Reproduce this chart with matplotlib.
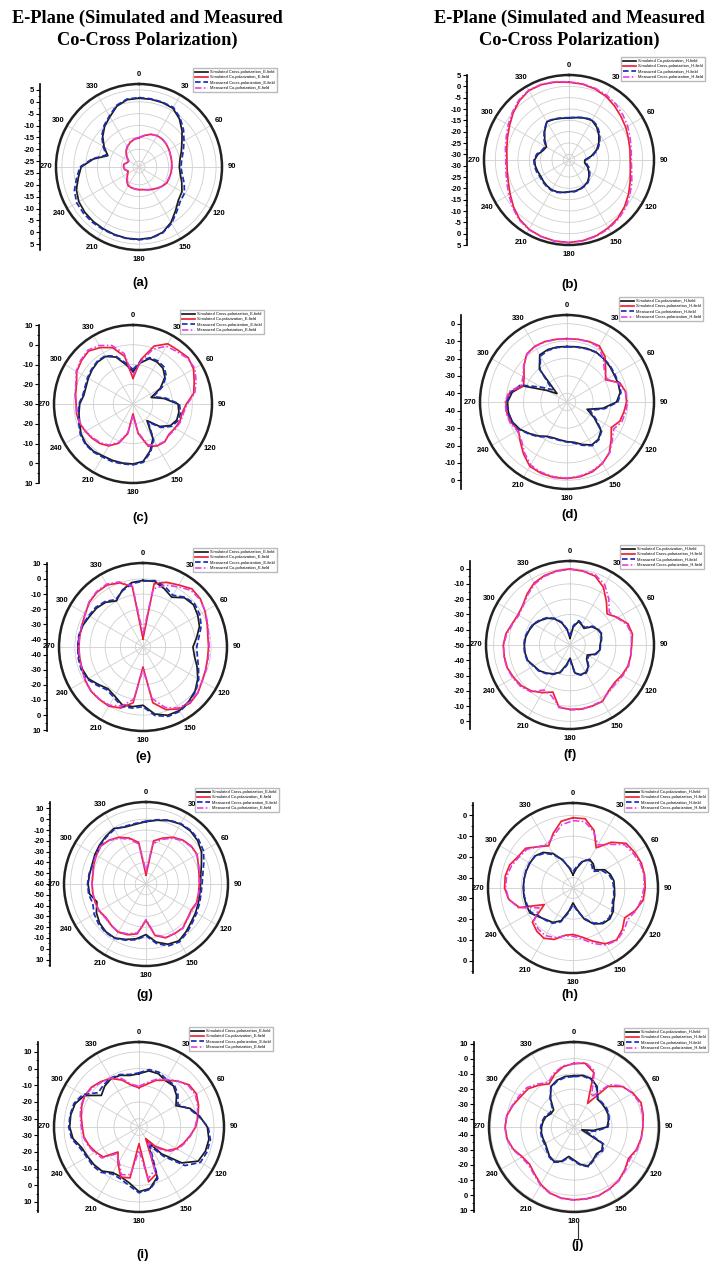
import numpy as np
import matplotlib
matplotlib.use("Agg")
import matplotlib.pyplot as plt
from matplotlib.lines import Line2D

W, H = 723, 1266
plt.rcParams['font.family'] = ['Liberation Sans', 'DejaVu Sans']

THETA_DEG = np.arange(0, 360, 10)
THETA_LABELS = ['0', '30', '60', '90', '120', '150', '180', '210', '240', '270', '300', '330']

E_LABELS = ['Simulated Cross-polarization_E-field', 'Simulated Co-polarization_E-field',
            'Measured Cross-polarization_E-field', 'Measured Co-polarization_E-field']
H_LABELS = ['Simulated Co-polarization_H-field', 'Simulated Cross-polarization_H-field',
            'Measured Co-polarization_H-field', 'Measured Cross-polarization_H-field']

# ---------------- (a) E-plane ----------------
a_sim_cross = [1.5, 1.5, 1.4, 1.1, -1.0, -3.8, -6.6, -8.5, -10.0, -10.5, -9.8, -8.3, -6.6, -5.8, -3.5, -0.5, 1.8, 2.8,
               3.0, 3.0, 2.8, 2.6, 2.5, 2.3, 1.8, 0.6, -1.5, -3.1, -8.0, -13.5, -10.5, -7.5, -5.0, -3.0, -0.2, 1.3]
a_sim_co = [-15.2, -14.0, -12.8, -12.2, -12.2, -12.5, -12.9, -13.3, -13.5, -13.7, -13.8, -13.9, -14.0, -14.8, -15.8, -16.6,
            -17.3, -17.8, -17.9, -18.0, -18.2, -18.4, -19.5, -21.0, -22.0, -22.6, -21.3, -21.0, -21.0, -22.2, -22.5, -20.8,
            -19.0, -17.7, -16.5, -15.7]
a_meas_cross = [1.8, 1.7, 1.6, 1.5, -0.5, -3.0, -5.6, -7.6, -9.2, -9.8, -9.0, -7.2, -5.4, -4.8, -2.8, 0.0, 2.0, 3.0,
                3.2, 3.1, 3.0, 2.9, 3.0, 3.0, 2.8, 1.5, -0.8, -2.6, -7.5, -12.8, -10.0, -7.0, -4.6, -2.6, 0.2, 1.6]
a_meas_co = [-15.0, -13.9, -12.9, -12.3, -12.1, -12.4, -12.8, -13.4, -13.6, -13.5, -13.6, -14.1, -14.2, -14.9, -15.6, -16.4,
             -17.2, -17.9, -18.1, -18.1, -18.3, -18.6, -19.8, -21.2, -21.8, -22.4, -21.5, -21.2, -20.8, -22.0, -22.3, -20.6,
             -18.8, -17.5, -16.3, -15.5]

# ---------------- (b) H-plane ----------------
b_sim_co = [-14.0, -13.5, -12.8, -12.3, -13.5, -15.3, -17.3, -19.5, -22.5, -25.5, -25.5, -23.8, -22.4, -21.0, -19.8, -19.2,
            -18.8, -18.5, -18.5, -18.0, -17.5, -17.3, -17.5, -17.8, -18.1, -17.8, -17.4, -17.3, -18.5, -20.3, -21.0, -18.5,
            -15.8, -13.0, -13.4, -13.8]
b_sim_cross = [1.8, 1.5, 0.9, 0.0, -1.3, -2.6, -3.6, -4.6, -5.2, -5.5, -5.0, -3.8, -2.2, -0.5, 1.0, 2.1, 3.0, 3.6,
               3.9, 3.8, 3.4, 2.8, 1.5, -0.5, -2.5, -4.0, -4.8, -5.1, -4.6, -3.6, -2.2, -0.3, 1.6, 2.9, 2.9, 2.4]
b_meas_co = [-13.8, -13.3, -12.6, -12.0, -13.0, -14.8, -16.8, -19.0, -22.0, -25.0, -24.8, -23.2, -22.0, -20.6, -19.5, -19.0,
             -18.6, -18.3, -18.4, -17.8, -17.3, -17.0, -17.2, -17.4, -17.7, -17.3, -17.0, -17.0, -18.0, -19.8, -20.5, -18.0,
             -15.5, -12.8, -13.2, -13.6]
b_meas_cross = [2.0, 1.7, 1.2, 0.6, -0.3, -1.5, -2.6, -3.8, -4.6, -5.0, -4.4, -3.0, -1.5, 0.2, 1.5, 2.5, 3.3, 3.8,
                4.0, 3.9, 3.5, 3.0, 1.9, 0.0, -1.8, -3.3, -4.2, -4.6, -4.0, -3.0, -1.5, 0.2, 2.0, 3.1, 3.1, 2.6]

# ---------------- (c) E-plane ----------------
c_sim_cross = [-13.6, -8.9, -5.5, -5.5, -6.4, -8.9, -14.0, -20.2, -14.0, -7.2, -6.4, -6.4, -8.1, -12.3, -19.0, -9.8, -4.7, -0.5,
               0.4, 0.4, 0.4, 0.4, 1.2, 1.2, 0.4, -1.3, -2.2, -3.0, -4.7, -4.7, -3.9, -3.0, -2.2, -2.2, -4.7, -9.8]
c_sim_co = [-17.0, -7.2, 1.2, 5.2, 5.5, 6.5, 5.4, 3.0, 1.2, -3.0, -4.7, -4.7, -5.5, -6.2, -5.0, -5.5, -7.2, -14.8,
            -25.0, -14.8, -8.9, -5.5, -3.9, -3.0, -2.2, -1.3, -1.0, -1.2, -0.5, 0.4, 2.9, 4.1, 5.0, 3.0, 0.4, -5.5]
c_meas_cross = [-12.5, -8.0, -5.0, -4.8, -5.5, -8.0, -13.0, -19.0, -13.0, -6.5, -5.5, -5.6, -7.4, -11.5, -18.0, -9.0, -4.0, 0.0,
                0.8, 0.8, 1.0, 1.0, 1.6, 1.6, 0.8, -0.8, -1.8, -2.6, -4.2, -4.2, -3.4, -2.6, -1.8, -1.8, -4.2, -9.0]
c_meas_co = [-15.5, -8.5, -0.5, 3.8, 4.6, 6.0, 6.2, 4.0, 1.8, -2.5, -4.0, -4.2, -5.0, -5.8, -5.2, -6.0, -8.0, -15.5,
             -24.0, -15.5, -9.5, -6.0, -4.4, -3.4, -2.4, -1.6, -1.2, -1.0, -0.2, 0.8, 3.2, 4.6, 5.6, 4.2, 1.6, -4.0]

# ---------------- (d) H-plane ----------------
d_sim_co = [-13.1, -12.8, -12.2, -11.8, -12.4, -13.0, -13.7, -13.7, -14.0, -16.5, -24.1, -32.7, -27.0, -19.5, -17.0, -16.5,
            -19.0, -21.5, -22.2, -22.8, -23.0, -22.2, -19.5, -16.8, -13.7, -11.6, -10.8, -10.8, -13.0, -18.0, -31.7, -37.5,
            -20.3, -13.7, -12.9, -12.9]
d_sim_cross = [-8.6, -8.4, -8.0, -7.8, -11.0, -16.0, -19.4, -12.7, -10.8, -10.8, -11.8, -12.7, -15.6, -11.8, -7.1, -4.2,
               -2.3, -1.4, -1.0, -1.0, -1.4, -2.3, -6.1, -9.9, -12.7, -10.8, -9.9, -9.9, -11.8, -18.4, -16.5, -12.7,
               -9.0, -8.0, -8.0, -8.4]
d_meas_co = [-13.3, -13.0, -12.5, -12.0, -12.2, -12.6, -13.2, -13.3, -13.5, -15.8, -23.0, -31.0, -26.0, -19.0, -16.6, -16.0,
             -18.5, -21.0, -22.0, -22.5, -22.6, -21.8, -19.0, -16.4, -13.4, -11.4, -10.6, -10.4, -12.4, -16.5, -28.0, -34.0,
             -21.0, -14.5, -13.4, -13.2]
d_meas_cross = [-8.8, -8.5, -8.2, -8.5, -12.5, -17.0, -18.5, -13.5, -11.0, -10.2, -10.8, -11.5, -14.0, -11.0, -6.8, -4.5,
                -2.8, -1.8, -1.3, -1.4, -2.0, -3.2, -7.0, -10.8, -12.0, -10.2, -9.4, -9.5, -11.0, -17.0, -15.8, -12.4,
                -9.2, -8.3, -8.2, -8.6]

# ---------------- (e) E-plane ----------------
e_sim_cross = [-1.0, -1.0, -4.0, -7.0, -2.5, -1.5, -3.2, -5.3, -9.0, -12.0, -10.5, -7.0, -3.2, 0.0, 2.0, 3.4, 3.0, 0.0,
               -6.5, -5.0, -4.5, -7.6, -9.0, -6.5, -3.2, -2.3, -2.1, -2.1, -2.1, -2.8, -4.3, -5.0, -6.5, -9.8, -5.0, -1.8]
e_sim_co = [-39.5, -2.6, 0.5, 2.3, 5.2, 4.5, 2.3, 0.1, -1.5, -1.7, -1.7, -1.0, 0.1, 2.3, 3.4, 2.3, -1.0, -7.6,
            -31.8, -7.6, -2.1, 0.1, 0.1, 0.1, -1.0, -2.1, -2.6, -2.6, -2.6, -2.1, -1.0, 1.2, 2.3, 2.3, 0.1, -4.5]
e_meas_cross = [-1.5, -0.5, -2.5, -5.5, -2.0, -0.5, -1.8, -4.0, -7.5, -9.5, -8.5, -6.0, -2.5, 0.5, 2.5, 4.0, 3.8, 1.0,
                -5.5, -4.0, -3.5, -6.5, -8.0, -5.5, -2.5, -1.5, -1.6, -1.8, -1.9, -2.4, -3.6, -4.2, -5.8, -8.8, -5.5, -2.5]
e_meas_co = [-36.0, -6.0, -1.5, 1.0, 4.0, 4.0, 2.5, 0.5, -1.0, -1.2, -1.2, -0.6, 0.2, 2.0, 2.8, 1.5, -2.5, -10.5,
             -30.0, -10.0, -3.5, -0.6, -0.2, -0.2, -1.0, -2.0, -2.4, -2.4, -2.4, -2.0, -0.8, 1.5, 2.8, 3.0, 0.8, -4.0]

# ---------------- (f) H-plane ----------------
f_sim_co = [-45.6, -38.0, -33.6, -34.7, -35.8, -31.4, -29.3, -28.2, -29.3, -30.3, -30.3, -32.5, -36.9, -35.8, -31.4, -29.3,
            -29.3, -31.4, -41.3, -36.9, -31.0, -28.2, -26.0, -23.8, -22.7, -20.5, -20.1, -20.1, -20.5, -21.6, -22.7, -24.9,
            -27.1, -30.3, -34.7, -40.2]
f_sim_cross = [-0.2, -0.9, -2.0, -6.3, -12.9, -18.3, -14.0, -9.6, -8.5, -9.6, -9.6, -9.6, -10.7, -11.8, -10.7, -7.4,
               -7.4, -7.4, -7.9, -8.5, -17.2, -14.0, -10.7, -8.5, -7.4, -6.3, -6.3, -6.3, -7.4, -9.6, -10.7, -9.6,
               -6.3, -3.1, -1.5, -0.7]
f_meas_co = [-44.0, -37.0, -33.0, -34.2, -35.0, -30.8, -28.8, -28.0, -29.0, -30.0, -30.0, -32.0, -36.0, -35.0, -30.8, -28.8,
             -29.0, -31.0, -40.0, -36.0, -30.5, -27.8, -25.6, -23.4, -22.4, -20.2, -19.8, -19.8, -20.0, -21.2, -22.2, -24.4,
             -26.6, -29.8, -34.0, -39.5]
f_meas_cross = [-0.5, -0.8, -1.2, -4.5, -10.5, -16.5, -14.5, -10.5, -9.0, -9.8, -9.5, -9.2, -10.0, -11.0, -10.2, -7.8,
                -7.8, -7.0, -7.5, -9.0, -14.5, -16.0, -10.0, -7.8, -6.8, -6.0, -6.0, -6.5, -8.0, -10.0, -11.2, -10.0,
                -7.0, -3.8, -2.0, -1.0]

# ---------------- (g) E-plane ----------------
g_sim_cross = [-2.2, 0.0, 2.5, 4.1, 4.1, 2.5, -0.6, -5.3, -8.4, -9.4, -9.4, -8.4, -6.9, -5.3, -2.2, 0.9, -0.6, -5.3,
               -13.1, -8.4, -5.3, -2.2, -2.2, -3.8, -6.9, -11.6, -6.9, -6.3, -6.9, -6.9, -5.3, -3.8, -2.2, -0.6, -3.8, -3.8]
g_sim_co = [-51.6, -19.4, -14.7, -10.0, -6.9, -5.3, -5.3, -8.4, -10.0, -10.6, -10.6, -10.0, -11.6, -10.0, -6.9, -6.9,
            -6.9, -11.6, -26.3, -13.1, -10.0, -8.4, -10.0, -11.6, -10.0, -10.0, -10.0, -10.0, -10.0, -8.4, -6.9, -5.3,
            -6.9, -10.0, -14.7, -20.9]
g_meas_cross = [-1.8, 0.5, 3.0, 4.6, 4.8, 3.8, 1.5, -3.0, -6.5, -8.0, -8.2, -7.2, -5.8, -4.0, -1.0, 2.0, 1.0, -4.0,
                -12.0, -7.5, -4.6, -1.8, -1.5, -2.5, -4.5, -7.5, -6.0, -5.8, -6.4, -7.4, -6.0, -4.5, -3.0, -1.5, -3.0, -3.0]
g_meas_co = [-48.0, -22.0, -16.0, -11.0, -7.5, -5.8, -5.6, -8.0, -9.6, -10.2, -10.4, -9.6, -11.0, -9.6, -6.6, -7.2,
             -7.4, -12.5, -27.0, -14.0, -10.8, -8.8, -9.6, -11.0, -9.6, -9.8, -9.8, -9.8, -9.6, -8.0, -6.6, -5.2,
             -7.2, -11.0, -16.0, -22.5]

# ---------------- (h) H-plane ----------------
h_sim_co = [-28.6, -25.4, -21.4, -19.0, -19.8, -21.4, -17.4, -15.8, -15.0, -15.0, -14.6, -14.2, -12.6, -11.8, -12.6, -15.0,
            -19.0, -24.6, -27.8, -23.8, -18.2, -15.8, -15.0, -13.4, -11.0, -11.0, -11.0, -11.0, -11.0, -11.0, -11.0, -11.0,
            -12.6, -15.8, -20.6, -25.4]
h_sim_cross = [-1.1, -1.1, -5.4, -12.6, -6.2, -1.5, -0.7, 0.1, 0.1, -0.2, -0.7, -3.1, -6.2, -3.9, -2.3, -3.9, -7.8, -11.0,
               -12.6, -11.8, -8.6, -7.0, -7.8, -9.4, -19.0, -7.5, -3.5, -2.0, -1.8, -2.5, -4.5, -5.2, -9.0, -11.5, -7.0, -2.3]
h_meas_co = [-27.0, -24.5, -21.0, -19.5, -20.8, -22.5, -18.5, -16.5, -15.5, -15.4, -15.0, -14.8, -13.2, -12.4, -13.0, -15.5,
             -19.5, -24.0, -27.0, -23.0, -17.6, -15.4, -14.6, -13.8, -11.6, -11.4, -11.2, -11.2, -11.0, -10.8, -10.8, -11.2,
             -13.2, -16.4, -21.0, -25.0]
h_meas_cross = [-2.5, -2.5, -6.0, -11.0, -7.5, -2.5, -1.5, -0.5, -0.2, -0.8, -1.6, -2.8, -4.5, -3.0, -2.0, -3.2, -6.5, -10.0,
                -11.8, -11.5, -9.5, -8.5, -9.0, -10.5, -16.0, -7.0, -3.6, -2.5, -2.5, -3.5, -5.0, -6.0, -9.0, -10.5, -8.0, -4.0]

# ---------------- (i) E-plane ----------------
i_sim_cross = [-3.0, -0.8, -1.0, -3.0, -2.8, -5.6, -9.4, -2.4, 2.0, 6.0, 7.6, 7.4, 6.0, -1.5, -14.0, -25.0, -3.0, 2.5,
               3.8, -1.0, -3.2, -3.4, -0.5, 0.2, 0.6, 1.5, 5.2, 6.6, 6.6, 5.8, 2.8, -5.5, -3.0, -1.5, -2.0, -3.6]
i_sim_co = [-11.4, -9.0, -5.2, -2.6, 1.0, 4.3, 4.8, 3.0, 1.0, -1.0, -4.0, -6.5, -9.0, -13.0, -20.0, -27.0, -5.0, -1.6,
            -25.0, -4.0, -3.0, -9.8, -15.4, -7.0, -5.0, -3.0, -1.4, -1.0, 0.2, 1.6, 2.6, 2.2, 0.6, -1.4, -5.0, -9.6]
i_meas_cross = [-2.5, 0.0, 0.0, -2.0, -2.0, -4.5, -8.0, -3.0, 1.5, 6.5, 8.5, 8.5, 7.5, 1.0, -12.0, -22.0, -2.0, 3.0,
                4.5, 0.5, -2.0, -2.5, 0.5, 1.2, 1.2, 2.5, 6.0, 7.2, 7.0, 6.5, 4.0, -3.0, -2.0, -1.0, -1.5, -3.0]
i_meas_co = [-10.5, -8.0, -4.5, -2.0, 1.0, 3.6, 4.0, 2.4, 0.6, -1.4, -3.6, -6.0, -8.2, -12.0, -18.5, -24.0, -7.5, -3.5,
             -21.0, -6.0, -4.5, -11.0, -14.0, -6.0, -4.2, -2.4, -1.0, -0.4, 0.8, 2.2, 2.6, 1.6, 0.0, -1.0, -4.0, -9.0]

# ---------------- (j) H-plane ----------------
j_sim_co = [-11.2, -10.5, -11.2, -14.4, -21.0, -21.0, -21.0, -21.0, -22.0, -23.2, -32.0, -39.5, -23.2, -21.0, -22.0, -19.9,
            -17.7, -19.9, -23.2, -25.3, -21.0, -18.8, -19.9, -22.0, -23.2, -23.2, -23.2, -23.6, -24.3, -25.3, -27.5, -27.5,
            -21.0, -14.4, -12.2, -11.2]
j_sim_cross = [-3.1, -2.4, -6.8, -27.0, -10.0, -3.5, -0.2, 2.0, 1.3, 0.4, -0.2, -1.3, -3.5, -1.3, 0.9, 2.0, 3.0, 3.0,
               3.0, 2.6, 1.3, -1.3, -4.6, -6.8, -5.7, -2.4, -0.2, 0.4, -0.2, -2.4, -4.6, -5.7, -9.0, -12.2, -7.9, -4.6]
j_meas_co = [-11.8, -11.0, -11.8, -15.2, -20.5, -20.5, -20.2, -20.6, -21.5, -22.6, -30.0, -36.0, -22.5, -20.4, -21.4, -19.4,
             -17.2, -19.4, -22.5, -24.5, -20.4, -18.2, -19.4, -21.4, -22.6, -22.4, -22.8, -23.0, -23.6, -24.6, -26.5, -26.5,
             -20.4, -14.8, -12.8, -11.8]
j_meas_cross = [-3.5, -1.8, -5.5, -22.0, -8.5, -3.0, -0.8, 1.2, 1.0, 0.6, 0.0, -0.8, -2.6, -0.8, 1.2, 2.2, 3.2, 3.2,
                3.2, 2.8, 1.6, -0.8, -4.0, -6.0, -5.0, -2.0, 0.0, 0.6, 0.0, -2.0, -3.5, -4.5, -8.0, -11.0, -7.0, -4.0]

# radial scale (centre value, rim value) and left-axis tick labels of each panel
a_scale = (-27.5, 7.5); a_ticks = [5, 0, -5, -10, -15, -20, -25]
b_scale = (-32.5, 5.0); b_ticks = [5, 0, -5, -10, -15, -20, -25, -30]
c_scale = (-30.0, 10.0); c_ticks = [10, 0, -10, -20, -30]
d_scale = (-45.0, 5.0); d_ticks = [0, -10, -20, -30, -40]
e_scale = (-45.0, 10.5); e_ticks = [10, 0, -10, -20, -30, -40]
f_scale = (-50.0, 5.0); f_ticks = [0, -10, -20, -30, -40, -50]
g_scale = (-60.0, 16.0); g_ticks = [10, 0, -10, -20, -30, -40, -50, -60]
h_scale = (-35.0, 6.0); h_ticks = [0, -10, -20, -30]
i_scale = (-35.0, 16.0); i_ticks = [10, 0, -10, -20, -30]
j_scale = (-45.0, 11.0); j_ticks = [10, 0, -10, -20, -30, -40]

# layout (pixels): centre x, centre y, radius, left-axis x, legend top-left, panel label position
PANELS = [
    dict(tag='(a)', field='E', curves=(a_sim_cross, a_sim_co, a_meas_cross, a_meas_co), scale=a_scale, ticks=a_ticks,
         cx=139, cy=167, R=83, axx=40, leg=(193, 68), lab=(140, 283)),
    dict(tag='(b)', field='H', curves=(b_sim_co, b_sim_cross, b_meas_co, b_meas_cross), scale=b_scale, ticks=b_ticks,
         cx=569, cy=160, R=85, axx=467, leg=(621, 57), lab=(570, 285)),
    dict(tag='(c)', field='E', curves=(c_sim_cross, c_sim_co, c_meas_cross, c_meas_co), scale=c_scale, ticks=c_ticks,
         cx=133, cy=404, R=79, axx=39, leg=(180, 310), lab=(140, 518)),
    dict(tag='(d)', field='H', curves=(d_sim_co, d_sim_cross, d_meas_co, d_meas_cross), scale=d_scale, ticks=d_ticks,
         cx=567, cy=402, R=87, axx=461, leg=(619, 297), lab=(570, 515)),
    dict(tag='(e)', field='E', curves=(e_sim_cross, e_sim_co, e_meas_cross, e_meas_co), scale=e_scale, ticks=e_ticks,
         cx=143, cy=647, R=84, axx=47, leg=(193, 548), lab=(143, 757)),
    dict(tag='(f)', field='H', curves=(f_sim_co, f_sim_cross, f_meas_co, f_meas_cross), scale=f_scale, ticks=f_ticks,
         cx=570, cy=645, R=84, axx=470, leg=(620, 545), lab=(570, 755)),
    dict(tag='(g)', field='E', curves=(g_sim_cross, g_sim_co, g_meas_cross, g_meas_co), scale=g_scale, ticks=g_ticks,
         cx=146, cy=884, R=82, axx=50, leg=(195, 788), lab=(145, 995)),
    dict(tag='(h)', field='H', curves=(h_sim_co, h_sim_cross, h_meas_co, h_meas_cross), scale=h_scale, ticks=h_ticks,
         cx=573, cy=888, R=85, axx=473, leg=(624, 788), lab=(570, 995)),
    dict(tag='(i)', field='E', curves=(i_sim_cross, i_sim_co, i_meas_cross, i_meas_co), scale=i_scale, ticks=i_ticks,
         cx=139, cy=1127, R=85, axx=38, leg=(189, 1027), lab=(143, 1255)),
    dict(tag='(j)', field='H', curves=(j_sim_co, j_sim_cross, j_meas_co, j_meas_cross), scale=j_scale, ticks=j_ticks,
         cx=574, cy=1127, R=85, axx=474, leg=(624, 1028), lab=(578, 1245)),
]

STYLES = [
    dict(color='#1c1c1c', lw=1.25, ls='-'),
    dict(color='#ee2233', lw=1.25, ls='-'),
    dict(color='#1c2db8', lw=1.25, ls=(0, (3.2, 1.6))),
    dict(color='#e23ce6', lw=1.15, ls=(0, (4, 1.5, 1, 1.5))),
]

fig = plt.figure(figsize=(W / 100, H / 100), dpi=100)


def fx(px):
    return px / W


def fy(py):
    return 1 - py / H


theta = np.deg2rad(np.append(THETA_DEG, 360))

for p in PANELS:
    rmin, rmax = p['scale']
    cx, cy, R = p['cx'], p['cy'], p['R']
    ax = fig.add_axes([fx(cx - R), fy(cy + R), 2 * R / W, 2 * R / H], projection='polar')
    ax.set_zorder(1)
    ax.set_theta_zero_location('N')
    ax.set_theta_direction(-1)
    labels = E_LABELS if p['field'] == 'E' else H_LABELS
    handles = []
    for vals, st, lab in zip(p['curves'], STYLES, labels):
        r = np.append(vals, vals[0])
        ln, = ax.plot(theta, r, color=st['color'], lw=st['lw'], linestyle=st['ls'], label=lab)
        handles.append(ln)
    ax.set_ylim(rmin, rmax)
    rings = [v for v in p['ticks'] if v > rmin]
    ax.set_yticks(rings)
    ax.set_yticklabels([])
    ax.set_thetagrids(np.arange(0, 360, 30), labels=THETA_LABELS)
    for t in ax.get_xticklabels():
        t.set_fontsize(5.5)
        t.set_fontweight('bold')
    ax.xaxis.set_minor_locator(matplotlib.ticker.FixedLocator(np.deg2rad(np.arange(0, 360, 10))))
    ax.tick_params(axis='x', which='major', pad=-2.5, direction='out', length=2.5, width=0.8)
    ax.tick_params(axis='x', which='minor', direction='out', length=1.6, width=0.6)
    ax.grid(True, which='major', color='#cfcfcf', lw=0.6)
    ax.spines['polar'].set_linewidth(1.8)
    ax.spines['polar'].set_color('#222222')

    # mirrored radial scale on the left
    span = rmax - rmin
    lax = fig.add_axes([fx(p['axx']), fy(cy + R), 0.0005, 2 * R / H])
    lax.set_ylim(-span, span)
    pos, txt = [], []
    for v in p['ticks']:
        d = v - rmin
        if d < 1e-6:
            pos.append(0.0)
            txt.append(str(v))
        else:
            pos += [d, -d]
            txt += [str(v), str(v)]
    lax.set_yticks(pos)
    lax.set_yticklabels(txt)
    step = abs(p['ticks'][0] - p['ticks'][1])
    minors = []
    for v in p['ticks']:
        d = v - rmin
        for m in (d - step / 2, d + step / 2):
            if 0 < m < span:
                minors += [m, -m]
    lax.set_yticks(sorted(set(minors)), minor=True)
    lax.set_xticks([])
    for s in ('top', 'right', 'bottom'):
        lax.spines[s].set_visible(False)
    lax.spines['left'].set_linewidth(1.2)
    lax.patch.set_alpha(0)
    lax.tick_params(axis='y', which='major', direction='out', length=3, width=0.8, labelsize=5.5, pad=1)
    lax.tick_params(axis='y', which='minor', direction='out', length=1.8, width=0.6)
    for t in lax.get_yticklabels():
        t.set_fontweight('bold')

    lx, ly = p['leg']
    leg = fig.legend(handles=handles, loc='upper left', bbox_to_anchor=(fx(lx), fy(ly)), fontsize=2.9,
                     frameon=True, edgecolor='#aaaaaa', fancybox=False, handlelength=3.2, handletextpad=0.6,
                     borderpad=0.5, labelspacing=0.35, borderaxespad=0)
    leg.set_zorder(0)

    fig.text(fx(p['lab'][0]), fy(p['lab'][1]), p['tag'], ha='center', va='center', fontsize=9.5, fontweight='bold')

for xc in (147, 569):
    fig.text(fx(xc), fy(18), 'E-Plane (Simulated and Measured', ha='center', va='center', fontsize=13.2,
             fontweight='bold', family='Liberation Serif')
    fig.text(fx(xc), fy(40), 'Co-Cross Polarization)', ha='center', va='center', fontsize=13.2,
             fontweight='bold', family='Liberation Serif')

fig.add_artist(Line2D([fx(578), fx(578)], [fy(1222), fy(1239)], color='#333333', lw=0.8))

fig.savefig('out.png', dpi=100)
